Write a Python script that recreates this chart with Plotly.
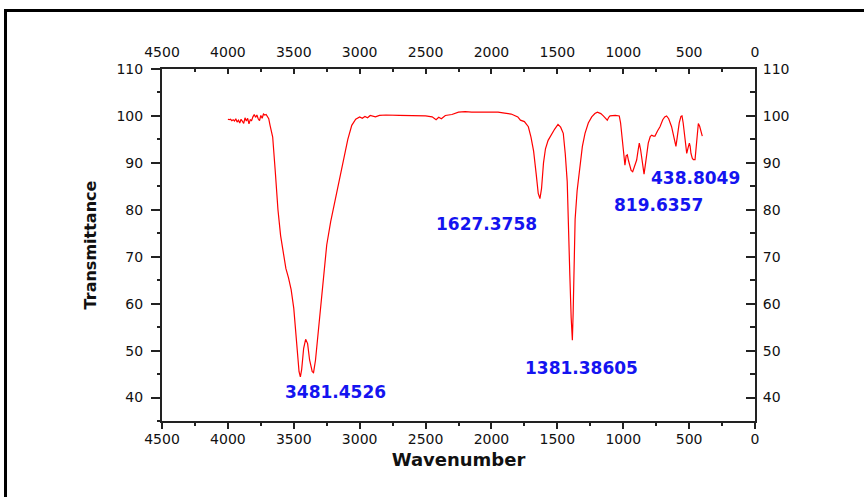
import plotly.graph_objects as go

# FTIR spectrum
wavenumber = [4000, 3990, 3980, 3970, 3960, 3950, 3940, 3930, 3920, 3910, 3900, 3890, 3880, 3870,
              3860, 3850, 3840, 3830, 3820, 3810, 3800, 3790, 3780, 3770, 3760, 3750, 3740, 3730,
              3720, 3710, 3700, 3690, 3680, 3660, 3640, 3620, 3600, 3580, 3560, 3540, 3520, 3500,
              3480, 3460, 3450, 3440, 3425, 3410, 3395, 3380, 3360, 3350, 3335, 3320, 3305, 3290,
              3275, 3250, 3220, 3180, 3150, 3120, 3090, 3060, 3030, 3000, 2980, 2960, 2940, 2920,
              2900, 2880, 2850, 2800, 2700, 2600, 2500, 2450, 2420, 2400, 2380, 2350, 2300, 2250,
              2200, 2150, 2100, 2050, 2000, 1950, 1900, 1850, 1800, 1780, 1750, 1720, 1700, 1680,
              1660, 1645, 1632, 1620, 1605, 1590, 1570, 1550, 1520, 1495, 1475, 1455, 1440, 1425,
              1415, 1405, 1395, 1386, 1380, 1374, 1365, 1350, 1328, 1310, 1290, 1265, 1239, 1215,
              1196, 1170, 1151, 1135, 1121, 1110, 1100, 1060, 1030, 1020, 1012, 1000, 987, 978,
              969, 960, 950, 940, 928, 915, 898, 888, 878, 868, 860, 850, 842, 830, 810, 795, 784,
              770, 759, 740, 721, 700, 685, 671, 655, 633, 615, 600, 590, 575, 562, 554, 545, 530,
              518, 508, 498, 492, 486, 476, 468, 455, 445, 436, 430, 420, 410, 400]
transmittance = [99.3, 99.2, 99.3, 99.0, 99.2, 98.9, 99.4, 98.7, 99.1, 98.5, 99.3, 98.8, 98.4, 99.6,
                 98.9, 99.5, 98.3, 99.2, 99.0, 99.8, 100.3, 99.7, 100.2, 99.4, 99.0, 100.1, 99.5, 100.4,
                 100.2, 100.3, 99.9, 99.4, 98.0, 95.5, 88.0, 80.0, 74.5, 70.5, 67.5, 65.5, 63.0, 59.0,
                 52.0, 45.5, 44.4, 46.0, 50.5, 52.4, 51.5, 48.0, 45.5, 45.3, 48.0, 52.5, 56.0, 61.5,
                 66.5, 72.5, 77.5, 83.0, 87.0, 91.0, 95.0, 98.0, 99.3, 99.8, 99.5, 99.9, 99.6, 100.1,
                 100.0, 99.8, 100.1, 100.2, 100.1, 100.1, 100.0, 99.8, 99.2, 99.7, 99.4, 100.1, 100.3, 100.8,
                 100.9, 100.8, 100.8, 100.7, 100.8, 100.8, 100.6, 100.4, 99.8, 99.1, 98.8, 97.7, 95.5, 92.5,
                 87.5, 83.5, 82.4, 84.5, 90.0, 93.0, 94.8, 95.8, 97.2, 98.2, 97.6, 96.3, 92.0, 86.0,
                 78.0, 66.0, 57.0, 52.2, 58.0, 69.0, 78.0, 84.0, 89.2, 93.5, 96.3, 98.5, 99.8, 100.5,
                 100.8, 100.5, 100.0, 99.5, 99.1, 99.7, 100.0, 100.1, 100.0, 98.5, 96.3, 92.0, 89.5, 91.5,
                 91.7, 90.5, 89.3, 88.4, 88.1, 89.0, 90.6, 92.5, 94.2, 92.8, 91.3, 88.6, 87.6, 90.0, 94.2, 95.6, 95.9,
                 95.7, 95.7, 96.8, 97.7, 99.2, 99.8, 100.0, 99.4, 97.7, 95.2, 93.5, 95.5, 98.5, 99.9, 100.0, 98.5, 94.5,
                 92.0, 93.2, 94.2, 93.5, 92.0, 91.0, 90.7, 90.7, 93.5, 97.0, 98.4, 97.8, 96.5, 95.7]

peak_labels = ["3481.4526", "1627.3758", "1381.38605", "819.6357", "438.8049"]
label_x = [3187, 2034, 1320, 729, 448]
label_y = [41.1, 77.0, 46.3, 81.0, 86.8]

x_ticks = [4500, 4000, 3500, 3000, 2500, 2000, 1500, 1000, 500, 0]
y_ticks = [40, 50, 60, 70, 80, 90, 100, 110]

FONT = "DejaVu Sans"
AX = "#222222"

fig = go.Figure()
fig.add_trace(go.Scatter(x=wavenumber, y=transmittance, mode="lines",
                         line=dict(color="#ff0000", width=1.2), showlegend=False))
# invisible companion trace so the mirrored (top/right) axes are drawn
fig.add_trace(go.Scatter(x=wavenumber, y=transmittance, mode="lines", xaxis="x2", yaxis="y2",
                         line=dict(color="rgba(0,0,0,0)", width=0), hoverinfo="skip",
                         showlegend=False))

common_x = dict(range=[4500, 0], tickvals=x_ticks, ticktext=[str(v) for v in x_ticks],
                showline=True, linecolor=AX, linewidth=2, showgrid=False, zeroline=False,
                tickcolor=AX, tickwidth=1.5,
                tickfont=dict(family=FONT, size=14, color="#111111"))
common_y = dict(range=[35, 110], tickvals=y_ticks, ticktext=[str(v) for v in y_ticks],
                showline=True, linecolor=AX, linewidth=2, showgrid=False, zeroline=False,
                tickcolor=AX, tickwidth=1.5,
                tickfont=dict(family=FONT, size=14, color="#111111"))

fig.update_layout(
    width=864, height=497,
    margin=dict(l=162, r=109, t=69, b=76),
    paper_bgcolor="white", plot_bgcolor="white",
    xaxis=dict(**common_x, side="bottom", ticks="outside", ticklen=6, ticklabelstandoff=-2,
               minor=dict(dtick=250, tick0=0, ticks="outside", ticklen=3, tickcolor=AX, tickwidth=1.5),
               title=dict(text="<b>Wavenumber</b>", font=dict(family=FONT, size=18, color="#111111"),
                          standoff=8)),
    xaxis2=dict(**common_x, side="top", overlaying="x", anchor="y", ticks="inside", ticklen=5,
                ticklabelstandoff=4,
                minor=dict(dtick=250, tick0=0, ticks="inside", ticklen=3, tickcolor=AX, tickwidth=1.5)),
    yaxis=dict(**common_y, side="left", ticks="outside", ticklen=9, ticklabelstandoff=5,
               minor=dict(dtick=5, tick0=0, ticks="outside", ticklen=3, tickcolor=AX, tickwidth=1.5),
               title=dict(text="<b>Transmittance</b>", font=dict(family=FONT, size=16, color="#111111"),
                          standoff=16)),
    yaxis2=dict(**common_y, side="right", overlaying="y", anchor="x", ticks="inside", ticklen=9,
                ticklabelstandoff=3,
                minor=dict(dtick=5, tick0=0, ticks="inside", ticklen=5, tickcolor=AX, tickwidth=1.5)),
)

for txt, xv, yv in zip(peak_labels, label_x, label_y):
    fig.add_annotation(x=xv, y=yv, xref="x", yref="y", text=f"<b>{txt}</b>", showarrow=False,
                       font=dict(family=FONT, size=17, color="#1414f0"))

# outer frame of the picture (left and top borders)
fig.add_shape(type="line", xref="paper", yref="paper", x0=-0.2639, x1=-0.2639, y0=-0.25, y1=1.1662,
              line=dict(color="black", width=3))
fig.add_shape(type="line", xref="paper", yref="paper", x0=-0.2664, x1=1.19, y0=1.1662, y1=1.1662,
              line=dict(color="black", width=3))

fig.write_html("out.html", config={"displayModeBar": False},
               post_script="document.body.style.margin='0';document.body.style.overflow='hidden';")
